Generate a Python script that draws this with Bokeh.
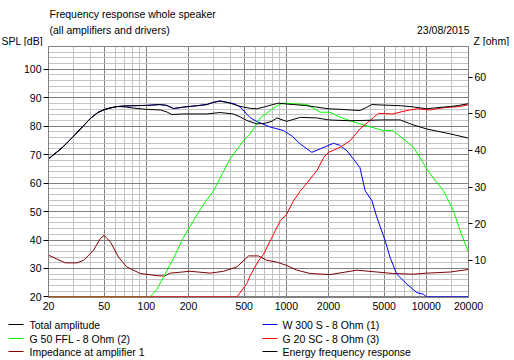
from bokeh.plotting import figure
from bokeh.models import Range1d, LinearAxis, FixedTicker, PrintfTickFormatter
from bokeh.layouts import column
from bokeh.core.properties import value
from bokeh.embed import file_html
from bokeh.resources import INLINE

# ---------------- data ----------------
total_f = [20, 25, 30, 35, 40, 45, 50, 55, 62, 70, 80, 100, 125, 140, 156, 184, 230, 270, 300, 336,
           396, 450, 494, 552, 612, 700, 800, 880, 1000, 1125, 1400, 1652, 2000, 2500, 2857, 3350,
           3700, 4085, 5000, 6500, 8000, 10090, 11900, 14800, 17000, 20000]
total_db = [68.5, 72.4, 76.3, 79.8, 82.8, 84.8, 85.8, 86.4, 86.9, 87.1, 87.2, 87.3, 87.6, 87.3, 86.2, 86.7, 87.2, 87.6, 88.3, 88.8,
            88.1, 87.2, 86.7, 86.3, 86.1, 86.8, 87.6, 88.1, 87.8, 87.6, 87.2, 86.7, 86.1, 85.9, 85.7, 85.5,
            86.5, 87.6, 87.4, 87.2, 86.8, 86.1, 86.5, 86.9, 87.3, 87.9]

energy_f = [20, 25, 30, 35, 40, 45, 50, 55, 62, 70, 80, 100, 126, 140, 152, 184, 270, 336, 418, 470,
            522, 612, 700, 788, 855, 1005, 1260, 1652, 2000, 2857, 4880, 6500, 8000, 10090, 14800, 20000]
energy_db = [68.5, 72.4, 76.3, 79.8, 82.8, 84.8, 85.8, 86.4, 86.9, 86.8, 86.4, 85.9, 85.7, 85.0, 84.1, 84.3, 84.3, 84.8, 84.3, 83.2,
             82.0, 80.8, 81.0, 81.7, 82.9, 81.7, 83.1, 82.9, 82.2, 81.9, 82.2, 82.2, 80.5, 79.0, 77.3, 75.8]

woofer_f = [20, 25, 30, 35, 40, 45, 50, 55, 62, 70, 80, 100, 125, 140, 156, 184, 230, 270, 300, 336,
            396, 430, 468, 552, 612, 767, 950, 1100, 1260, 1521, 1740, 2173, 2400, 2705, 3350, 3656,
            4085, 4436, 5083, 5512, 6150, 7260, 8560, 9500, 10000, 20000]
woofer_db = [68.5, 72.4, 76.3, 79.8, 82.8, 84.8, 85.8, 86.4, 86.9, 87.1, 87.2, 87.3, 87.6, 87.3, 86.2, 86.7, 87.2, 87.6, 88.4, 88.9,
             88.2, 87.8, 86.7, 83.0, 81.7, 79.7, 78.5, 76.5, 73.7, 70.8, 72.0, 74.0, 73.3, 71.4, 65.5, 57.3,
             53.8, 47.9, 39.7, 33.8, 28.0, 24.5, 21.5, 21.0, 20.0, 20.0]

mid_f = [20, 106, 119, 132, 157, 184, 217, 256, 302, 350, 396, 494, 552, 612, 650, 767, 880, 950,
         1125, 1403, 1740, 2050, 2424, 3350, 4880, 5750, 8100, 10650, 13250, 15600, 17450, 20000]
mid_db = [20.0, 20.0, 22.7, 26.8, 33.8, 40.9, 46.8, 52.6, 57.3, 63.4, 68.5, 74.9, 77.3, 80.8, 82.9, 85.5, 87.5, 88.1,
          87.9, 87.6, 84.9, 84.9, 83.1, 80.8, 78.5, 78.5, 72.6, 63.2, 57.3, 50.3, 43.2, 35.6]

tweeter_f = [20, 443, 522, 552, 632, 687, 809, 906, 1005, 1125, 1260, 1325, 1652, 1850, 2000, 2424,
             2857, 3350, 4200, 4550, 5750, 7260, 8560, 10650, 13250, 17450, 20000]
tweeter_db = [20.0, 20.0, 24.7, 27.5, 32.7, 35.0, 42.0, 46.8, 49.1, 53.8, 57.3, 58.5, 64.4, 69.0, 70.8, 72.6,
              74.9, 79.0, 83.1, 84.5, 84.3, 85.5, 86.1, 85.7, 86.5, 86.9, 87.6]

imp_f = [20, 26.3, 31.9, 35.6, 41.9, 46.8, 50, 55.4, 63.2, 72.3, 90.4, 119, 135, 148, 205, 286, 356,
         443, 537, 632, 726, 855, 1005, 1189, 1480, 2050, 3190, 4436, 5750, 8100, 10090, 14800, 20000]
imp_ohm = [11.4, 9.3, 9.3, 10.0, 12.7, 15.9, 16.8, 15.0, 10.9, 8.2, 6.4, 5.8, 5.7, 6.5, 7.0, 6.5, 7.0,
           8.2, 11.2, 11.2, 10.0, 9.5, 8.6, 7.3, 6.4, 6.1, 7.3, 6.8, 6.4, 6.2, 6.5, 6.8, 7.5]

x_labels = [20, 50, 100, 200, 500, 1000, 2000, 5000, 10000, 20000]
x_minor = [30, 40, 60, 70, 80, 90, 300, 400, 600, 700, 800, 900, 3000, 4000,
           6000, 7000, 8000, 9000, 15000]
spl_ticks = [20, 30, 40, 50, 60, 70, 80, 90, 100]
spl_minor = [v for v in range(22, 108, 2) if v % 10 != 0]
z_ticks = [10, 20, 30, 40, 50, 60]

title_lines = ["Frequency response whole speaker", "(all amplifiers and drivers)"]
date_text = "23/08/2015"
spl_title = "SPL [dB]"
z_title = "Z [ohm]"

legend_left = ["Total amplitude", "G 50 FFL - 8 Ohm (2)", "Impedance at amplifier 1"]
legend_left_col = ["#000000", "#00ff00", "#800000"]
legend_right = ["W 300 S - 8 Ohm (1)", "G 20 SC - 8 Ohm (3)", "Energy frequency response"]
legend_right_col = ["#0000ff", "#ff0000", "#000000"]

FONT = "Liberation Sans"
FS = "10.5px"
MAJOR = "#808080"
MINOR = "#c4c4c4"
W = 514


def strip(height):
    f = figure(width=W, height=height, x_range=Range1d(0, W), y_range=Range1d(height, 0),
               output_backend="svg", toolbar_location=None, min_border=0,
               x_axis_location=None, y_axis_location=None)
    f.grid.visible = False
    f.outline_line_color = None
    f.frame_align = False
    return f


def txt(f, xs, ys, texts, align="left"):
    f.text(x=xs, y=ys, text=texts, text_font=value(FONT), text_font_size=value(FS),
           text_baseline="middle", text_align=align, text_color="#000000")


# ---------------- header strip ----------------
h = strip(46)
txt(h, [49, 49], [13.5, 29.5], title_lines)
txt(h, [469], [29.5], [date_text], "right")
txt(h, [1], [40.5], [spl_title])
txt(h, [473], [40.5], [z_title])

# ---------------- main chart ----------------
p = figure(width=W, height=270, x_axis_type="log",
           x_range=Range1d(20, 20000), y_range=Range1d(19.8, 108.0),
           output_backend="svg", toolbar_location=None,
           min_border_left=48, min_border_right=46, min_border_top=0, min_border_bottom=19)
p.frame_align = False
p.extra_y_ranges = {"z": Range1d(-0.16, 68.4)}
p.outline_line_color = MAJOR

p.xaxis.ticker = FixedTicker(ticks=x_labels)
p.xaxis.formatter = PrintfTickFormatter(format="%d")
p.xaxis.major_tick_out = 0
p.xaxis.major_tick_in = 0
p.xaxis.minor_tick_line_color = None
p.xaxis.major_label_standoff = 4

p.yaxis.ticker = FixedTicker(ticks=spl_ticks)
p.yaxis.major_tick_out = 5
p.yaxis.major_tick_in = 0
p.yaxis.minor_tick_line_color = None
p.yaxis.major_label_standoff = 2

zax = LinearAxis(y_range_name="z", ticker=FixedTicker(ticks=z_ticks))
zax.major_tick_out = 4
zax.major_tick_in = 0
zax.minor_tick_line_color = None
zax.major_label_standoff = 2
p.add_layout(zax, "right")

for ax in p.axis:
    ax.axis_line_color = MAJOR
    ax.major_tick_line_color = "#000000"
    ax.major_label_text_font = FONT
    ax.major_label_text_font_size = FS
    ax.major_label_text_color = "#000000"

p.xgrid.ticker = FixedTicker(ticks=x_labels, minor_ticks=x_minor)
p.ygrid.ticker = FixedTicker(ticks=spl_ticks, minor_ticks=spl_minor)
p.grid.grid_line_color = MAJOR
p.grid.minor_grid_line_color = MINOR

p.line(imp_f, imp_ohm, color="#800000", line_width=1, y_range_name="z")
p.line(woofer_f, woofer_db, color="#0000ff", line_width=1)
p.line(mid_f, mid_db, color="#00ff00", line_width=1)
p.line(tweeter_f, tweeter_db, color="#ff0000", line_width=1)
p.line(energy_f, energy_db, color="#000000", line_width=1)
p.line(total_f, total_db, color="#000000", line_width=1)

# ---------------- legend strip ----------------
q = strip(44)
rows = [8, 22, 35]
q.segment(x0=[8] * 3, x1=[23] * 3, y0=rows, y1=rows, color=legend_left_col, line_width=1)
q.segment(x0=[262] * 3, x1=[277] * 3, y0=rows, y1=rows, color=legend_right_col, line_width=1)
txt(q, [29] * 3, rows, legend_left)
txt(q, [282] * 3, rows, legend_right)

layout = column(h, p, q, spacing=0)
open("out.html", "w").write(file_html(layout, INLINE))
